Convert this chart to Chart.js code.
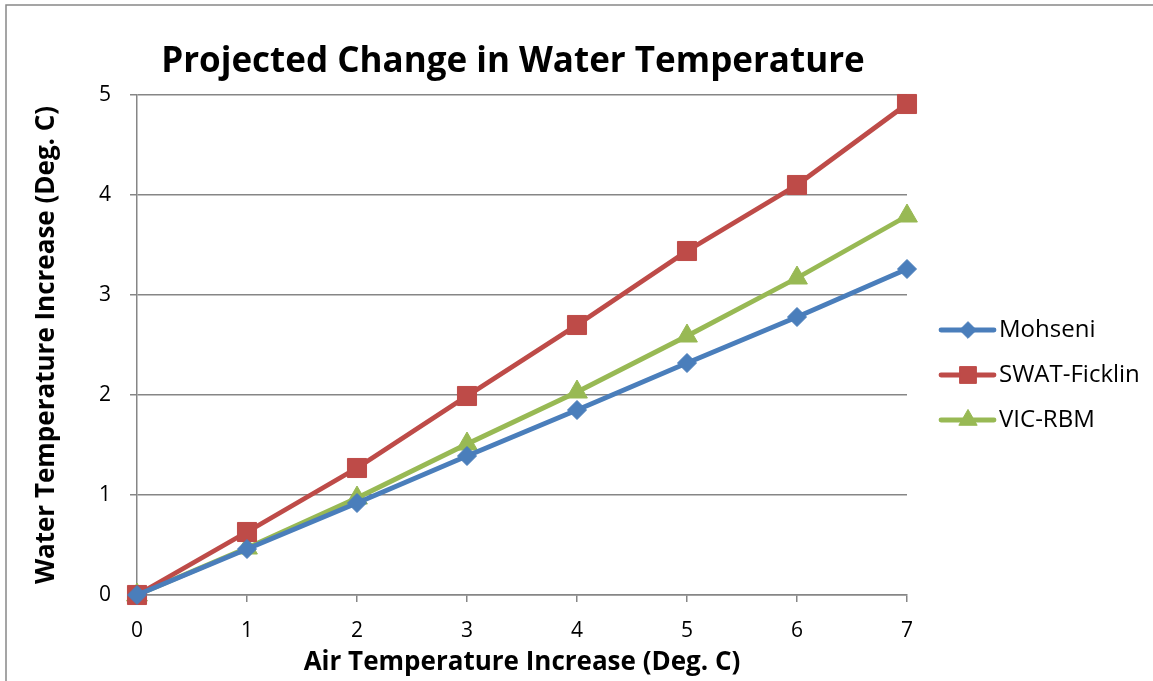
<!DOCTYPE html>
<html>
<head>
<meta charset="utf-8">
<script src="https://cdn.jsdelivr.net/npm/chart.js@4.4.1/dist/chart.umd.min.js"></script>
<style>
  html, body { margin: 0; padding: 0; background: #ffffff; }
  #wrap { width: 1153px; height: 681px; position: relative; }
</style>
</head>
<body>
<div id="wrap"><canvas id="chart" width="1153" height="681"></canvas></div>
<script>
// Air temperature increase (deg C) along the x axis
const airIncrease = [0, 1, 2, 3, 4, 5, 6, 7];

// Projected water temperature increase (deg C) per model
const mohseni     = [0, 0.46, 0.92, 1.39, 1.85, 2.32, 2.78, 3.26];
const swatFicklin = [0, 0.63, 1.27, 1.99, 2.70, 3.44, 4.10, 4.91];
const vicRbm      = [0, 0.47, 0.97, 1.51, 2.03, 2.59, 3.17, 3.79];

const seriesNames = ['Mohseni', 'SWAT-Ficklin', 'VIC-RBM'];
const yTicks = [0, 1, 2, 3, 4, 5];

const chartTitle = 'Projected Change in Water Temperature';
const xTitle = 'Air Temperature Increase (Deg. C)';
const yTitle = 'Water Temperature Increase (Deg. C)';

const FONT = "'Open Sans', 'DejaVu Sans', sans-serif";
const GRID = '#868686';

function toPoints(values) {
  return airIncrease.map((x, i) => ({ x: x, y: values[i] }));
}

const styles = [
  { color: '#4a7ebb', point: 'rectRot', radius: 9.5 },
  { color: '#be4b48', point: 'rect', radius: 13.5 },
  { color: '#98b954', point: 'triangle', radius: 12 }
];

const datasets = [mohseni, swatFicklin, vicRbm].map((vals, i) => ({
  label: seriesNames[i],
  data: toPoints(vals),
  borderColor: styles[i].color,
  backgroundColor: styles[i].color,
  borderWidth: 4.8,
  pointStyle: styles[i].point,
  pointRadius: styles[i].radius,
  pointHoverRadius: styles[i].radius,
  pointBorderWidth: 1,
  pointBackgroundColor: styles[i].color,
  pointBorderColor: styles[i].color,
  tension: 0,
  clip: false
}));

// Outer frame of the chart object (top and left edges)
const framePlugin = {
  id: 'frame',
  beforeDraw(chart) {
    const ctx = chart.ctx;
    ctx.save();
    ctx.fillStyle = '#ffffff';
    ctx.fillRect(0, 0, chart.width, chart.height);
    ctx.strokeStyle = '#888888';
    ctx.lineWidth = 1.5;
    ctx.beginPath();
    ctx.moveTo(6, chart.height);
    ctx.lineTo(6, 5);
    ctx.lineTo(chart.width, 5);
    ctx.stroke();
    ctx.restore();
  }
};

// Heading above the plot
const headingPlugin = {
  id: 'heading',
  afterDraw(chart) {
    const ctx = chart.ctx;
    ctx.save();
    ctx.font = "bold 35px " + FONT;
    ctx.fillStyle = '#000000';
    ctx.textAlign = 'center';
    ctx.textBaseline = 'middle';
    ctx.fillText(chartTitle, 513, 62);
    ctx.restore();
  }
};

// Legend on the right: line segment with the series marker in the middle
const sideLegendPlugin = {
  id: 'sideLegend',
  afterDraw(chart) {
    const ctx = chart.ctx;
    const rowsY = [330, 375, 420];
    ctx.save();
    chart.data.datasets.forEach((ds, i) => {
      const y = rowsY[i];
      ctx.strokeStyle = ds.borderColor;
      ctx.lineWidth = 4.8;
      ctx.lineCap = 'round';
      ctx.beginPath();
      ctx.moveTo(941, y);
      ctx.lineTo(994, y);
      ctx.stroke();
      ctx.lineCap = 'butt';
      ctx.fillStyle = ds.pointBackgroundColor;
      ctx.strokeStyle = ds.pointBorderColor;
      ctx.lineWidth = 1;
      Chart.helpers.drawPoint(ctx, {
        pointStyle: ds.pointStyle,
        rotation: 0,
        borderWidth: 1,
        radius: ds.pointRadius * 0.88
      }, 968, y);
      ctx.fillStyle = '#000000';
      ctx.font = "24px " + FONT;
      ctx.textAlign = 'left';
      ctx.textBaseline = 'middle';
      ctx.fillText(ds.label, 999, y);
    });
    ctx.restore();
  }
};

new Chart(document.getElementById('chart'), {
  type: 'line',
  data: { datasets: datasets },
  options: {
    responsive: false,
    animation: false,
    events: [],
    layout: { padding: { left: 0, right: 246, top: 95, bottom: 0 } },
    plugins: {
      legend: { display: false },
      title: { display: false },
      tooltip: { enabled: false }
    },
    scales: {
      x: {
        type: 'linear',
        min: airIncrease[0],
        max: airIncrease[airIncrease.length - 1],
        afterFit(scale) { scale.height = 86; },
        afterBuildTicks(scale) {
          scale.ticks = airIncrease.map(v => ({ value: v }));
        },
        ticks: {
          color: '#000000',
          font: { family: FONT, size: 21 },
          padding: 16,
          maxRotation: 0
        },
        grid: {
          drawOnChartArea: false,
          drawTicks: true,
          tickLength: 7,
          color: GRID,
          lineWidth: 1.5
        },
        border: { display: true, color: GRID, width: 1.5 },
        title: {
          display: true,
          text: xTitle,
          color: '#000000',
          font: { family: FONT, size: 26, weight: 'bold' },
          padding: { top: 0, bottom: 3 }
        }
      },
      y: {
        type: 'linear',
        min: 0,
        max: 5,
        afterFit(scale) { scale.width = 137; },
        afterBuildTicks(scale) {
          scale.ticks = yTicks.map(v => ({ value: v }));
        },
        ticks: {
          color: '#000000',
          font: { family: FONT, size: 21 },
          padding: 19
        },
        grid: {
          drawOnChartArea: true,
          drawTicks: true,
          tickLength: 7,
          color: GRID,
          lineWidth: 1.5
        },
        border: { display: true, color: GRID, width: 1.5 },
        title: {
          display: true,
          text: yTitle,
          color: '#000000',
          font: { family: FONT, size: 26, weight: 'bold' },
          padding: { top: 31, bottom: 0 }
        }
      }
    }
  },
  plugins: [framePlugin, headingPlugin, sideLegendPlugin]
});
</script>
</body>
</html>
